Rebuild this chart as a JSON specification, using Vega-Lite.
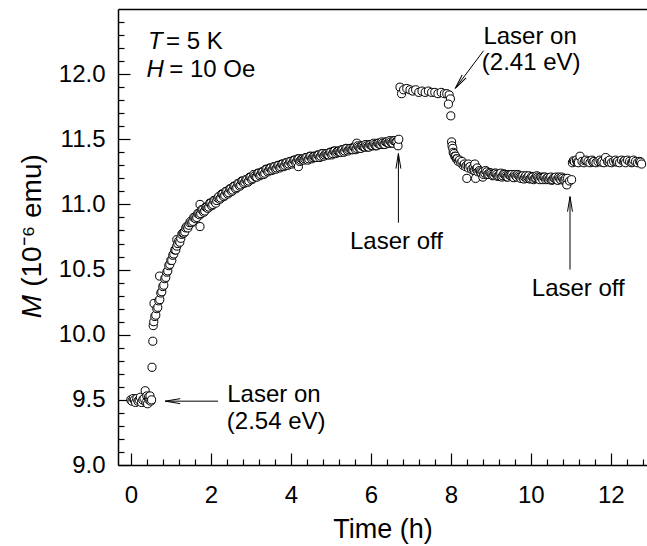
{
  "$schema": "https://vega.github.io/schema/vega-lite/v6.json",
  "width": 529,
  "height": 456,
  "autosize": {"type": "none"},
  "padding": {"left": 118, "top": 9, "right": 0, "bottom": 81},
  "background": "white",
  "config": {
    "view": {"stroke": null},
    "font": "Liberation Sans",
    "axis": {
      "domainColor": "black", "tickColor": "black", "labelColor": "black", "titleColor": "black",
      "labelFont": "Liberation Sans", "titleFont": "Liberation Sans",
      "grid": false, "labelOverlap": false, "labelBound": false, "labelFlush": false,
      "titleFontWeight": "normal"
    }
  },
  "datasets": {
    "pts": [
      {"t":0.0,"m":9.50},{"t":0.03,"m":9.49},{"t":0.06,"m":9.51},{"t":0.09,"m":9.50},{"t":0.12,"m":9.48},{"t":0.15,"m":9.51},{"t":0.18,"m":9.49},{"t":0.21,"m":9.50},{"t":0.24,"m":9.52},{"t":0.27,"m":9.48},{"t":0.3,"m":9.50},{"t":0.33,"m":9.51},{"t":0.36,"m":9.57},{"t":0.38,"m":9.48},{"t":0.4,"m":9.53},{"t":0.42,"m":9.47},{"t":0.44,"m":9.52},{"t":0.46,"m":9.50},{"t":0.48,"m":9.53},{"t":0.5,"m":9.49},{"t":0.52,"m":9.50},
      {"t":0.53,"m":9.75},{"t":0.55,"m":9.95},{"t":0.56,"m":10.07},
      {"t":0.575,"m":10.10},{"t":0.58,"m":10.24},{"t":0.6,"m":10.14},{"t":0.625,"m":10.15},{"t":0.65,"m":10.20},{"t":0.675,"m":10.21},{"t":0.7,"m":10.26},{"t":0.72,"m":10.45},{"t":0.725,"m":10.27},{"t":0.75,"m":10.32},{"t":0.775,"m":10.33},{"t":0.8,"m":10.37},{"t":0.825,"m":10.38},{"t":0.85,"m":10.43},{"t":0.875,"m":10.44},{"t":0.9,"m":10.48},{"t":0.925,"m":10.49},{"t":0.95,"m":10.53},{"t":0.975,"m":10.54},{"t":1.0,"m":10.57},{"t":1.025,"m":10.57},{"t":1.05,"m":10.61},{"t":1.075,"m":10.62},{"t":1.1,"m":10.65},{"t":1.125,"m":10.65},{"t":1.15,"m":10.73},{"t":1.15,"m":10.68},{"t":1.175,"m":10.70},{"t":1.2,"m":10.72},
      {"t":1.225,"m":10.71},{"t":1.25,"m":10.74},{"t":1.275,"m":10.77},{"t":1.3,"m":10.78},{"t":1.325,"m":10.78},{"t":1.35,"m":10.79},{"t":1.375,"m":10.82},{"t":1.4,"m":10.83},{"t":1.425,"m":10.82},{"t":1.45,"m":10.84},{"t":1.475,"m":10.86},{"t":1.5,"m":10.87},{"t":1.525,"m":10.86},{"t":1.55,"m":10.87},{"t":1.575,"m":10.90},{"t":1.6,"m":10.90},{"t":1.625,"m":10.89},{"t":1.65,"m":10.90},{"t":1.675,"m":10.93},{"t":1.7,"m":10.93},{"t":1.725,"m":10.92},{"t":1.73,"m":11.00},{"t":1.73,"m":10.83},{"t":1.75,"m":10.93},{"t":1.775,"m":10.96},{"t":1.8,"m":10.96},{"t":1.825,"m":10.94},{"t":1.85,"m":10.95},{"t":1.875,"m":10.98},{"t":1.9,"m":10.98},{"t":1.925,"m":10.97},{"t":1.95,"m":10.98},{"t":1.975,"m":11.01},
      {"t":2.0,"m":11.01},{"t":2.025,"m":10.99},{"t":2.05,"m":11.00},{"t":2.075,"m":11.03},{"t":2.1,"m":11.03},{"t":2.125,"m":11.01},{"t":2.15,"m":11.03},{"t":2.175,"m":11.05},{"t":2.2,"m":11.06},{"t":2.225,"m":11.04},{"t":2.25,"m":11.05},{"t":2.275,"m":11.08},{"t":2.3,"m":11.08},{"t":2.325,"m":11.06},{"t":2.35,"m":11.07},{"t":2.375,"m":11.10},{"t":2.4,"m":11.10},{"t":2.425,"m":11.08},{"t":2.45,"m":11.09},{"t":2.475,"m":11.12},{"t":2.5,"m":11.12},{"t":2.525,"m":11.10},{"t":2.55,"m":11.11},{"t":2.575,"m":11.14},{"t":2.6,"m":11.14},{"t":2.625,"m":11.12},{"t":2.65,"m":11.13},{"t":2.675,"m":11.16},{"t":2.7,"m":11.16},{"t":2.725,"m":11.14},{"t":2.75,"m":11.15},{"t":2.775,"m":11.18},{"t":2.8,"m":11.18},{"t":2.825,"m":11.16},{"t":2.85,"m":11.17},{"t":2.875,"m":11.19},{"t":2.9,"m":11.19},{"t":2.925,"m":11.17},{"t":2.95,"m":11.18},{"t":2.975,"m":11.21},
      {"t":3.0,"m":11.21},{"t":3.025,"m":11.19},{"t":3.05,"m":11.20},{"t":3.075,"m":11.23},{"t":3.1,"m":11.22},{"t":3.125,"m":11.21},{"t":3.15,"m":11.21},{"t":3.175,"m":11.24},{"t":3.2,"m":11.24},{"t":3.225,"m":11.22},{"t":3.25,"m":11.23},{"t":3.275,"m":11.25},{"t":3.3,"m":11.25},{"t":3.325,"m":11.23},{"t":3.35,"m":11.24},{"t":3.375,"m":11.27},{"t":3.4,"m":11.27},{"t":3.425,"m":11.25},{"t":3.45,"m":11.26},{"t":3.475,"m":11.28},{"t":3.5,"m":11.28},{"t":3.525,"m":11.26},{"t":3.55,"m":11.27},{"t":3.575,"m":11.29},{"t":3.6,"m":11.29},{"t":3.625,"m":11.27},{"t":3.65,"m":11.28},{"t":3.675,"m":11.30},{"t":3.7,"m":11.30},{"t":3.725,"m":11.28},{"t":3.75,"m":11.29},{"t":3.775,"m":11.31},{"t":3.8,"m":11.31},{"t":3.825,"m":11.29},{"t":3.85,"m":11.30},{"t":3.875,"m":11.32},{"t":3.9,"m":11.32},{"t":3.925,"m":11.30},{"t":3.95,"m":11.31},{"t":3.975,"m":11.33},
      {"t":4.0,"m":11.33},{"t":4.025,"m":11.31},{"t":4.05,"m":11.32},{"t":4.075,"m":11.34},{"t":4.1,"m":11.34},{"t":4.125,"m":11.32},{"t":4.15,"m":11.33},{"t":4.175,"m":11.35},{"t":4.19,"m":11.29},{"t":4.2,"m":11.35},{"t":4.225,"m":11.33},{"t":4.25,"m":11.34},{"t":4.275,"m":11.35},{"t":4.3,"m":11.35},{"t":4.325,"m":11.34},{"t":4.35,"m":11.35},{"t":4.375,"m":11.36},{"t":4.4,"m":11.36},{"t":4.425,"m":11.34},{"t":4.45,"m":11.35},{"t":4.475,"m":11.37},{"t":4.5,"m":11.37},{"t":4.525,"m":11.35},{"t":4.55,"m":11.36},{"t":4.575,"m":11.37},{"t":4.6,"m":11.37},{"t":4.625,"m":11.36},{"t":4.65,"m":11.36},{"t":4.675,"m":11.38},{"t":4.7,"m":11.38},{"t":4.725,"m":11.36},{"t":4.75,"m":11.37},{"t":4.775,"m":11.39},{"t":4.8,"m":11.39},{"t":4.825,"m":11.37},{"t":4.85,"m":11.38},{"t":4.875,"m":11.39},{"t":4.9,"m":11.39},{"t":4.925,"m":11.38},{"t":4.95,"m":11.38},{"t":4.975,"m":11.40},
      {"t":5.0,"m":11.40},{"t":5.025,"m":11.38},{"t":5.05,"m":11.39},{"t":5.075,"m":11.41},{"t":5.1,"m":11.41},{"t":5.125,"m":11.39},{"t":5.15,"m":11.40},{"t":5.175,"m":11.41},{"t":5.2,"m":11.41},{"t":5.225,"m":11.40},{"t":5.25,"m":11.40},{"t":5.275,"m":11.42},{"t":5.3,"m":11.42},{"t":5.325,"m":11.40},{"t":5.35,"m":11.41},{"t":5.375,"m":11.43},{"t":5.4,"m":11.43},{"t":5.425,"m":11.41},{"t":5.45,"m":11.42},{"t":5.475,"m":11.43},{"t":5.5,"m":11.43},{"t":5.525,"m":11.42},{"t":5.55,"m":11.42},{"t":5.575,"m":11.44},{"t":5.6,"m":11.44},{"t":5.625,"m":11.42},{"t":5.65,"m":11.47},{"t":5.65,"m":11.43},{"t":5.675,"m":11.45},{"t":5.7,"m":11.44},{"t":5.725,"m":11.43},{"t":5.75,"m":11.43},{"t":5.775,"m":11.45},{"t":5.8,"m":11.45},{"t":5.825,"m":11.44},{"t":5.85,"m":11.44},{"t":5.875,"m":11.46},{"t":5.9,"m":11.45},{"t":5.925,"m":11.44},{"t":5.95,"m":11.44},{"t":5.975,"m":11.46},
      {"t":6.0,"m":11.46},{"t":6.025,"m":11.45},{"t":6.05,"m":11.45},{"t":6.075,"m":11.47},{"t":6.1,"m":11.46},{"t":6.125,"m":11.45},{"t":6.15,"m":11.45},{"t":6.175,"m":11.47},{"t":6.2,"m":11.47},{"t":6.225,"m":11.46},{"t":6.25,"m":11.46},{"t":6.275,"m":11.48},{"t":6.3,"m":11.47},{"t":6.325,"m":11.46},{"t":6.35,"m":11.46},{"t":6.375,"m":11.48},{"t":6.4,"m":11.48},{"t":6.425,"m":11.47},{"t":6.45,"m":11.47},{"t":6.475,"m":11.49},{"t":6.5,"m":11.48},{"t":6.525,"m":11.47},{"t":6.55,"m":11.47},{"t":6.575,"m":11.49},{"t":6.6,"m":11.49},{"t":6.625,"m":11.48},{"t":6.65,"m":11.48},{"t":6.68,"m":11.45},{"t":6.7,"m":11.50},
      {"t":6.73,"m":11.90},{"t":6.77,"m":11.85},{"t":6.82,"m":11.88},{"t":6.9,"m":11.89},{"t":6.98,"m":11.88},{"t":7.05,"m":11.87},{"t":7.12,"m":11.88},{"t":7.2,"m":11.86},{"t":7.28,"m":11.87},{"t":7.36,"m":11.86},{"t":7.44,"m":11.87},{"t":7.52,"m":11.86},{"t":7.6,"m":11.86},{"t":7.68,"m":11.85},{"t":7.76,"m":11.86},{"t":7.84,"m":11.85},{"t":7.9,"m":11.85},{"t":7.96,"m":11.84},{"t":7.99,"m":11.81},{"t":7.94,"m":11.77},{"t":8.0,"m":11.68},
      {"t":8.02,"m":11.48},{"t":8.03,"m":11.45},{"t":8.05,"m":11.43},{"t":8.06,"m":11.40},{"t":8.08,"m":11.39},{"t":8.1,"m":11.37},{"t":8.12,"m":11.37},{"t":8.14,"m":11.35},{"t":8.16,"m":11.35},{"t":8.19,"m":11.33},{"t":8.22,"m":11.34},{"t":8.25,"m":11.32},{"t":8.28,"m":11.33},{"t":8.31,"m":11.30},{"t":8.34,"m":11.31},{"t":8.37,"m":11.29},{"t":8.4,"m":11.20},{"t":8.4,"m":11.30},{"t":8.44,"m":11.31},{"t":8.44,"m":11.28},{"t":8.48,"m":11.29},{"t":8.52,"m":11.27},{"t":8.56,"m":11.28},{"t":8.58,"m":11.26},{"t":8.6,"m":11.31},{"t":8.6,"m":11.26},{"t":8.62,"m":11.20},{"t":8.64,"m":11.27},{"t":8.66,"m":11.28},{"t":8.68,"m":11.25},{"t":8.72,"m":11.26},{"t":8.74,"m":11.25},{"t":8.76,"m":11.24},{"t":8.8,"m":11.21},{"t":8.8,"m":11.25},{"t":8.82,"m":11.23},{"t":8.85,"m":11.24},{"t":8.87,"m":11.26},{"t":8.9,"m":11.25},{"t":8.92,"m":11.23},{"t":8.95,"m":11.23},{"t":8.975,"m":11.245},
      {"t":9.0,"m":11.24},{"t":9.025,"m":11.23},{"t":9.05,"m":11.22},{"t":9.075,"m":11.225},{"t":9.1,"m":11.24},{"t":9.125,"m":11.24},{"t":9.15,"m":11.23},{"t":9.175,"m":11.215},{"t":9.2,"m":11.22},{"t":9.225,"m":11.23},{"t":9.25,"m":11.24},{"t":9.275,"m":11.21},{"t":9.3,"m":11.22},{"t":9.325,"m":11.235},{"t":9.35,"m":11.23},{"t":9.375,"m":11.22},{"t":9.4,"m":11.21},{"t":9.425,"m":11.21},{"t":9.45,"m":11.23},{"t":9.475,"m":11.225},{"t":9.5,"m":11.22},{"t":9.525,"m":11.23},{"t":9.55,"m":11.21},{"t":9.575,"m":11.205},{"t":9.6,"m":11.23},{"t":9.625,"m":11.22},{"t":9.65,"m":11.21},{"t":9.675,"m":11.23},{"t":9.7,"m":11.22},{"t":9.725,"m":11.21},{"t":9.75,"m":11.20},{"t":9.775,"m":11.215},{"t":9.8,"m":11.22},{"t":9.825,"m":11.195},{"t":9.85,"m":11.21},{"t":9.875,"m":11.22},{"t":9.9,"m":11.20},{"t":9.925,"m":11.21},{"t":9.95,"m":11.22},{"t":9.975,"m":11.195},
      {"t":10.0,"m":11.20},{"t":10.025,"m":11.215},{"t":10.05,"m":11.21},{"t":10.075,"m":11.19},{"t":10.1,"m":11.20},{"t":10.125,"m":11.205},{"t":10.15,"m":11.22},{"t":10.175,"m":11.21},{"t":10.2,"m":11.20},{"t":10.225,"m":11.19},{"t":10.25,"m":11.21},{"t":10.275,"m":11.205},{"t":10.3,"m":11.19},{"t":10.325,"m":11.21},{"t":10.35,"m":11.21},{"t":10.375,"m":11.19},{"t":10.4,"m":11.20},{"t":10.425,"m":11.205},{"t":10.45,"m":11.19},{"t":10.475,"m":11.20},{"t":10.5,"m":11.21},{"t":10.525,"m":11.185},{"t":10.55,"m":11.19},{"t":10.575,"m":11.205},{"t":10.6,"m":11.20},{"t":10.625,"m":11.21},{"t":10.65,"m":11.19},{"t":10.675,"m":11.185},{"t":10.7,"m":11.21},{"t":10.725,"m":11.20},{"t":10.75,"m":11.19},{"t":10.775,"m":11.21},{"t":10.8,"m":11.20},{"t":10.825,"m":11.185},{"t":10.85,"m":11.19},{"t":10.875,"m":11.20},{"t":10.9,"m":11.15},{"t":10.92,"m":11.20},{"t":10.97,"m":11.18},{"t":11.02,"m":11.19},
      {"t":11.04,"m":11.32},{"t":11.065,"m":11.335},{"t":11.09,"m":11.33},{"t":11.14,"m":11.34},{"t":11.165,"m":11.325},{"t":11.19,"m":11.32},{"t":11.23,"m":11.37},{"t":11.28,"m":11.33},{"t":11.33,"m":11.32},{"t":11.355,"m":11.335},{"t":11.38,"m":11.34},{"t":11.43,"m":11.33},{"t":11.48,"m":11.32},{"t":11.53,"m":11.34},{"t":11.555,"m":11.325},{"t":11.58,"m":11.33},{"t":11.63,"m":11.32},{"t":11.68,"m":11.33},{"t":11.73,"m":11.34},{"t":11.755,"m":11.325},{"t":11.78,"m":11.33},{"t":11.83,"m":11.32},{"t":11.87,"m":11.36},{"t":11.92,"m":11.33},{"t":11.955,"m":11.325},{"t":11.97,"m":11.34},{"t":12.02,"m":11.32},{"t":12.07,"m":11.33},{"t":12.12,"m":11.34},{"t":12.145,"m":11.325},{"t":12.17,"m":11.33},{"t":12.22,"m":11.32},{"t":12.27,"m":11.34},{"t":12.32,"m":11.33},{"t":12.345,"m":11.335},{"t":12.37,"m":11.32},{"t":12.42,"m":11.34},{"t":12.47,"m":11.33},{"t":12.52,"m":11.32},{"t":12.545,"m":11.325},{"t":12.57,"m":11.34},{"t":12.62,"m":11.33},{"t":12.67,"m":11.32},{"t":12.72,"m":11.33},{"t":12.745,"m":11.325},{"t":12.77,"m":11.31}
    ],
    "arrows": [
      {"id":"a1","t1":2.18,"m1":9.49,"t2":0.86,"m2":9.49},
      {"id":"a2","t1":6.69,"m1":10.86,"t2":6.69,"m2":11.39},
      {"id":"a3","t1":8.82,"m1":12.18,"t2":8.11,"m2":11.89},
      {"id":"a4","t1":10.98,"m1":10.50,"t2":10.98,"m2":11.06}
    ],
    "labels": [
      {"t":2.41,"m":9.486,"text":"Laser on"},
      {"t":2.40,"m":9.276,"text":"(2.54 eV)"},
      {"t":5.48,"m":10.66,"text":"Laser off"},
      {"t":8.815,"m":12.233,"text":"Laser on"},
      {"t":8.775,"m":12.03,"text":"(2.41 eV)"},
      {"t":10.025,"m":10.296,"text":"Laser off"},
      {"t":0.88,"m":12.19,"text":"= 5 K"},
      {"t":0.96,"m":11.975,"text":"= 10 Oe"}
    ],
    "italic": [
      {"t":0.43,"m":12.19,"text":"T"},
      {"t":0.39,"m":11.975,"text":"H"}
    ]
  },
  "resolve": {"axis": {"x": "independent", "y": "independent"}},
  "layer": [
    {
      "data": {"name": "pts"},
      "mark": {"type": "point", "shape": "circle", "filled": true, "fill": "white", "stroke": "black", "strokeWidth": 1, "size": 66, "opacity": 1, "fillOpacity": 1, "strokeOpacity": 1},
      "encoding": {
        "x": {"field": "t", "type": "quantitative", "scale": {"domain": [-0.32, 12.905], "nice": false, "zero": false},
          "axis": {"orient": "bottom", "values": [0,2,4,6,8,10,12], "tickSize": -12, "tickWidth": 1.2, "domainWidth": 1.5, "labelFontSize": 24, "labelPadding": 49, "labelBaseline": "alphabetic", "title": "Time (h)", "titleFontSize": 27, "titleBaseline": "alphabetic", "titleY": 72}},
        "y": {"field": "m", "type": "quantitative", "scale": {"domain": [9, 12.5], "nice": false, "zero": false},
          "axis": {"orient": "left", "values": [9,9.5,10,10.5,11,11.5,12], "format": ".1f", "tickSize": -12, "tickWidth": 1.2, "domainWidth": 1.5, "labelFontSize": 24, "labelPadding": 25, "title": "(10⁻⁶ emu)", "titleFontSize": 28, "titleBaseline": "alphabetic", "titleAngle": -90, "titleX": -78, "titleY": 211, "titleAlign": "center"}}
      }
    },
    {
      "data": {"name": "arrows"},
      "mark": {"type": "rule", "color": "black", "strokeWidth": 1},
      "encoding": {
        "x": {"field": "t1", "type": "quantitative", "scale": {"domain": [-0.32, 12.905], "nice": false, "zero": false},
          "axis": {"orient": "bottom", "values": [0.4,0.8,1.2,1.6,2.4,2.8,3.2,3.6,4.4,4.8,5.2,5.6,6.4,6.8,7.2,7.6,8.4,8.8,9.2,9.6,10.4,10.8,11.2,11.6,12.4,12.8], "tickSize": -6, "tickWidth": 1.2, "domain": false, "labels": false, "title": null}},
        "y": {"field": "m1", "type": "quantitative", "scale": {"domain": [9, 12.5], "nice": false, "zero": false},
          "axis": {"orient": "left", "values": [9.1,9.2,9.3,9.4,9.6,9.7,9.8,9.9,10.1,10.2,10.3,10.4,10.6,10.7,10.8,10.9,11.1,11.2,11.3,11.4,11.6,11.7,11.8,11.9,12.1,12.2,12.3,12.4], "tickSize": -6, "tickWidth": 1.2, "domain": false, "labels": false, "title": "M", "titleFontSize": 28, "titleFontStyle": "italic", "titleBaseline": "alphabetic", "titleAngle": -90, "titleX": -78, "titleY": 297, "titleAlign": "center"}},
        "x2": {"field": "t2"},
        "y2": {"field": "m2"}
      }
    },
    {
      "data": {"name": "arrows"},
      "transform": [{"filter": "datum.id === 'a2' || datum.id === 'a4'"}],
      "mark": {"type": "point", "shape": "M-0.33,2L0,0L0.33,2", "filled": false, "stroke": "black", "strokeWidth": 1, "size": 225, "opacity": 1, "angle": 0},
      "encoding": {
        "x": {"field": "t2", "type": "quantitative", "scale": {"domain": [-0.32, 12.905], "nice": false, "zero": false},
          "axis": {"orient": "top", "domainWidth": 1.5, "domainColor": "black", "ticks": false, "labels": false, "title": null}},
        "y": {"field": "m2", "type": "quantitative", "scale": {"domain": [9, 12.5], "nice": false, "zero": false}, "axis": null}
      }
    },
    {
      "data": {"name": "arrows"},
      "transform": [{"filter": "datum.id === 'a1'"}],
      "mark": {"type": "point", "shape": "M-0.33,2L0,0L0.33,2", "filled": false, "stroke": "black", "strokeWidth": 1, "size": 225, "opacity": 1, "angle": 270},
      "encoding": {
        "x": {"field": "t2", "type": "quantitative", "scale": {"domain": [-0.32, 12.905], "nice": false, "zero": false}, "axis": null},
        "y": {"field": "m2", "type": "quantitative", "scale": {"domain": [9, 12.5], "nice": false, "zero": false}, "axis": null}
      }
    },
    {
      "data": {"name": "arrows"},
      "transform": [{"filter": "datum.id === 'a3'"}],
      "mark": {"type": "point", "shape": "M-0.33,2L0,0L0.33,2", "filled": false, "stroke": "black", "strokeWidth": 1, "size": 225, "opacity": 1, "angle": 216.5},
      "encoding": {
        "x": {"field": "t2", "type": "quantitative", "scale": {"domain": [-0.32, 12.905], "nice": false, "zero": false}, "axis": null},
        "y": {"field": "m2", "type": "quantitative", "scale": {"domain": [9, 12.5], "nice": false, "zero": false}, "axis": null}
      }
    },
    {
      "data": {"name": "labels"},
      "mark": {"type": "text", "align": "left", "baseline": "alphabetic", "fontSize": 24, "font": "Liberation Sans", "color": "black"},
      "encoding": {
        "x": {"field": "t", "type": "quantitative", "scale": {"domain": [-0.32, 12.905], "nice": false, "zero": false}, "axis": null},
        "y": {"field": "m", "type": "quantitative", "scale": {"domain": [9, 12.5], "nice": false, "zero": false}, "axis": null},
        "text": {"field": "text"}
      }
    },
    {
      "data": {"name": "italic"},
      "mark": {"type": "text", "align": "left", "baseline": "alphabetic", "fontSize": 24, "fontStyle": "italic", "font": "Liberation Sans", "color": "black"},
      "encoding": {
        "x": {"field": "t", "type": "quantitative", "scale": {"domain": [-0.32, 12.905], "nice": false, "zero": false}, "axis": null},
        "y": {"field": "m", "type": "quantitative", "scale": {"domain": [9, 12.5], "nice": false, "zero": false}, "axis": null},
        "text": {"field": "text"}
      }
    }
  ]
}
